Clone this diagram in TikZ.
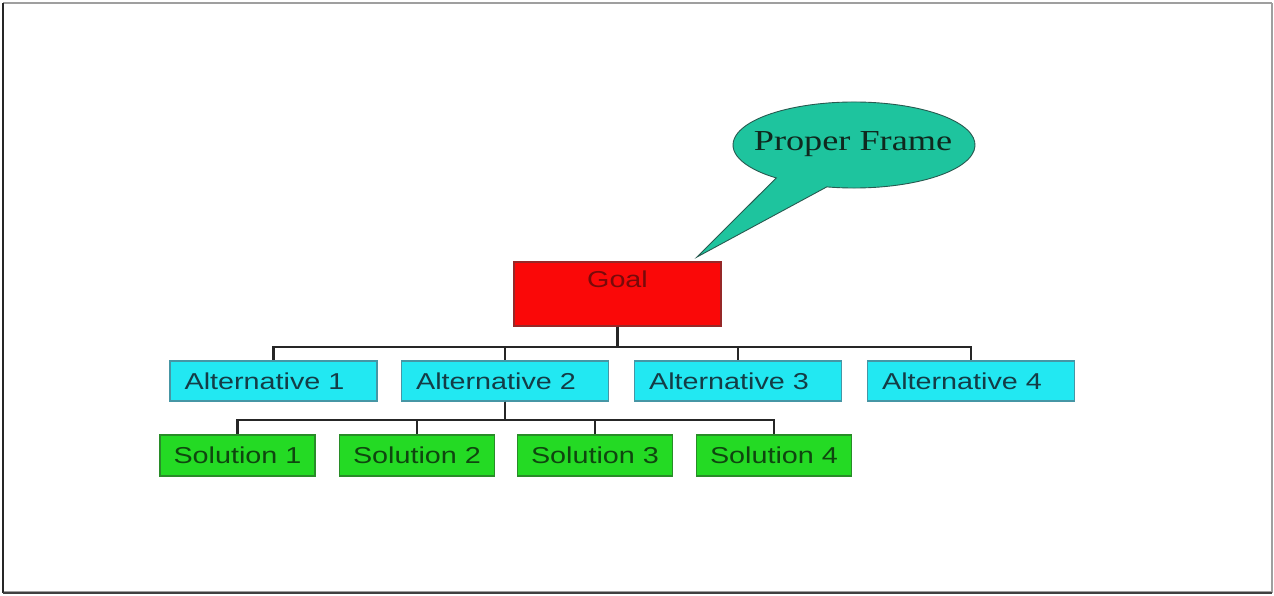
\documentclass[tikz,border=0pt]{standalone}
\usepackage{fontspec}
\newfontfamily\boxfont[FakeStretch=1.25]{Liberation Sans}
\newfontfamily\bubblefont[FakeStretch=1.25]{Liberation Serif}
\definecolor{goalred}{RGB}{250,8,8}
\definecolor{goaledge}{RGB}{150,40,40}
\definecolor{goaltext}{RGB}{120,10,10}
\definecolor{altfill}{RGB}{34,232,242}
\definecolor{altedge}{RGB}{70,150,165}
\definecolor{alttext}{RGB}{20,60,70}
\definecolor{solfill}{RGB}{36,218,36}
\definecolor{soledge}{RGB}{40,140,40}
\definecolor{soltext}{RGB}{15,70,15}
\definecolor{bubblefill}{RGB}{30,196,158}
\definecolor{bubbleedge}{RGB}{40,90,80}
\definecolor{bubbletext}{RGB}{15,40,30}
\tikzset{
  box/.style={draw, rectangle, line width=1.3pt, inner sep=0pt,
    font=\boxfont\fontsize{23}{27}\selectfont},
  goalbox/.style={box, fill=goalred, draw=goaledge,
    minimum width=207pt, minimum height=64pt},
  altbox/.style={box, fill=altfill, draw=altedge, text=alttext,
    minimum width=207pt, minimum height=40pt,
    execute at end node={\hspace*{18pt}}},
  solbox/.style={box, fill=solfill, draw=soledge, text=soltext,
    minimum width=155pt, minimum height=41pt},
  link/.style={draw=black!85, line width=2.2pt}
}
\begin{document}
\begin{tikzpicture}[x=1pt, y=1pt]
  \useasboundingbox (0,0) rectangle (1274,595);
  \fill[white] (0,0) rectangle (1274,595);
  % bevelled outer frame
  \draw[gray!75, line width=2pt] (3,3) -- (1272,3) -- (1272,592);
  \draw[gray!75, line width=2pt] (3,592) -- (1272,592);
  \draw[black!85, line width=2.5pt] (3,592) -- (3,2);
  \draw[black!75, line width=2pt] (3,2) -- (1272,2);

  % speech bubble
  \filldraw[fill=bubblefill, draw=bubbleedge, line width=0.9pt]
    (854,450) ++(257:121 and 43)
    arc[start angle=257, end angle=590, x radius=121, y radius=43]
    -- (697,338) -- cycle;
  \node[font=\bubblefont\fontsize{29}{33}\selectfont, text=bubbletext]
    (frame) at (853,451) {Proper Frame};

  % goal
  \node[goalbox, label={[anchor=north, yshift=-6pt, text=goaltext,
      font=\boxfont\fontsize{23}{27}\selectfont]north:Goal}]
    (goal) at (617.5,301) {};

  % alternatives
  \node[altbox] (alt1) at (273.5,214) {Alternative 1};
  \node[altbox] (alt2) at (505,214) {Alternative 2};
  \node[altbox] (alt3) at (738,214) {Alternative 3};
  \node[altbox] (alt4) at (971,214) {Alternative 4};

  % solutions
  \node[solbox] (sol1) at (237.5,139.5) {Solution 1};
  \node[solbox] (sol2) at (417,139.5) {Solution 2};
  \node[solbox] (sol3) at (595,139.5) {Solution 3};
  \node[solbox] (sol4) at (774,139.5) {Solution 4};

  % tree connectors
  \foreach \a in {alt1,alt2,alt3,alt4}
    \draw[link] (goal.south) -- ++(0,-20) -| (\a.north);
  \foreach \s in {sol1,sol2,sol3,sol4}
    \draw[link] (alt2.south) -- ++(0,-18) -| (\s.north);
\end{tikzpicture}
\end{document}
